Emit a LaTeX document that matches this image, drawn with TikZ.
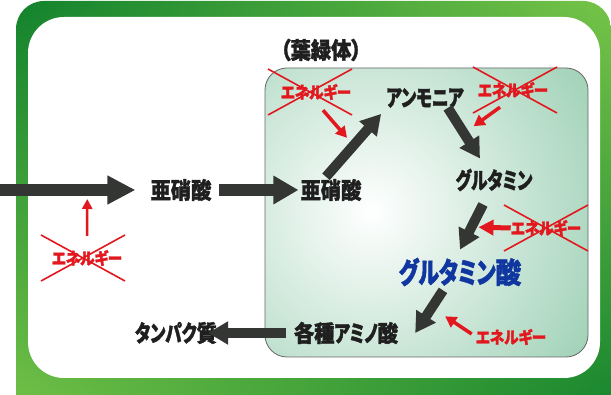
\documentclass[tikz,border=0pt]{standalone}
\usepackage{fontspec}
\newfontfamily\jp{Noto Sans CJK JP}[FakeStretch=0.88,RawFeature=+palt,BoldFeatures={FakeBold=1.6}]
\newfontfamily\jpk{Noto Sans CJK JP}[FakeStretch=0.72,RawFeature=+palt,BoldFeatures={FakeBold=1.6}]
\newcommand\kn[1]{{\jpk\bfseries#1}}
\usetikzlibrary{arrows.meta,shadings}
\definecolor{dkgreen}{RGB}{18,130,45}
\definecolor{ltgreen}{RGB}{118,196,72}
\definecolor{chlgreen}{RGB}{148,204,174}
\definecolor{enred}{RGB}{226,24,30}
\definecolor{glublue}{RGB}{16,54,160}
\definecolor{arrgray}{RGB}{52,54,52}
\begin{document}
\begin{tikzpicture}[x=1pt,y=-1pt,
    lbl/.style={inner sep=0pt,text=black!88,font=\jp\bfseries\fontsize{23}{23}\selectfont},
    en/.style={inner sep=0pt,text=enred,font=\jp\bfseries\fontsize{16.5}{16.5}\selectfont},
    xline/.style={enred,line width=1.6pt},
    bigarr/.style={arrgray,line width=12pt,-{Triangle[length=28pt,width=27pt]}},
    midarr/.style={arrgray,line width=10pt,-{Triangle[length=20pt,width=22pt]}},
    redarr/.style={enred,line width=3.5pt,-{Triangle[length=11pt,width=12pt]}}]
        \useasboundingbox(0,0)rectangle(611,395);
        \clip(0,0)rectangle(611,395);
        \shade[upper left=dkgreen,upper right=ltgreen,lower left=ltgreen,lower right=dkgreen,rounded corners=28pt](16,1)rectangle(611,430);
        \fill[white,rounded corners=36pt](28,17)rectangle(600,378);
        \begin{scope}
            \clip[rounded corners=22pt](265,68)rectangle(588,357);
            \shade[inner color=white,outer color=chlgreen](372,212)circle(290);
        \end{scope}
        \draw[black!60,line width=0.8pt,rounded corners=22pt](265,68)rectangle(588,357);
        \node[lbl](chl)at(321,50){（葉緑体）};
        \node[lbl](nitA)at(181,190){亜硝酸};
        \node[lbl](nitB)at(331,190){亜硝酸};
        \node[lbl](amm)at(425,98){\kn{アンモニア}};
        \node[lbl](gln)at(494,180){\kn{グルタミン}};
        \node[lbl,text=glublue,font=\jp\bfseries\fontsize{29}{29}\selectfont](glu)at(460,272){\kn{グルタミン}酸};
        \node[lbl](amino)at(346,333){各種\kn{アミノ}酸};
        \node[lbl](prot)at(176,333){\kn{タンパク}質};
        \node[en](enA)at(316,92){エネルギー};
        \node[en](enB)at(513,90){エネルギー};
        \node[en](enC)at(546,228){エネルギー};
        \node[en](enD)at(511,337){エネルギー};
        \node[en](enE)at(87,258){エネルギー};
        \foreach \n/\dx in {enA/-6,enB/2,enC/0,enE/-4}
            \draw[xline]([shift={(\dx-42,-23)}]\n.center)--([shift={(\dx+42,23)}]\n.center)
                ([shift={(\dx+42,-23)}]\n.center)--([shift={(\dx-42,23)}]\n.center);
        \coordinate(start)at(0,190);
        \draw[bigarr](start)--coordinate[pos=.645](mA)([xshift=-15pt]nitA.west);
        \draw[bigarr,-{Triangle[length=25pt,width=27pt]}]([xshift=7pt]nitA.east)--([xshift=-2pt]nitB.west);
        \draw[midarr]([xshift=-5pt,yshift=2pt]nitB.north)--coordinate[pos=.5](mB)([xshift=-5pt,yshift=-6pt]amm.south west);
        \draw[midarr]([xshift=-16pt]amm.south east)--coordinate[pos=.5](mC)([xshift=-14pt,yshift=10pt]gln.north);
        \draw[midarr]([xshift=-11pt,yshift=-13pt]gln.south)--coordinate[pos=.5](mD)([yshift=8pt]glu.north);
        \draw[midarr]([xshift=-17pt,yshift=-4pt]glu.south)--coordinate[pos=.4](mE)([xshift=17pt]amino.east);
        \draw[midarr]([xshift=-8pt]amino.west)--([xshift=-9pt]prot.east);
        \draw[redarr,shorten >=10pt]([xshift=7pt,yshift=-10pt]enA.south)--(mB);
        \draw[redarr,shorten >=12pt]([xshift=-13pt,yshift=-9pt]enB.south)--(mC);
        \draw[redarr,line width=5pt,-{Triangle[length=15pt,width=15pt]},shorten >=7pt](enC.west)--(mD);
        \draw[redarr,shorten >=16pt]([xshift=-4pt,yshift=3pt]enD.west)--(mE);
        \draw[redarr,line width=2.5pt,-{Triangle[length=10pt,width=10pt]},shorten >=9pt]([yshift=14pt]enE.north)--(mA);
    \end{tikzpicture}
\end{document}
